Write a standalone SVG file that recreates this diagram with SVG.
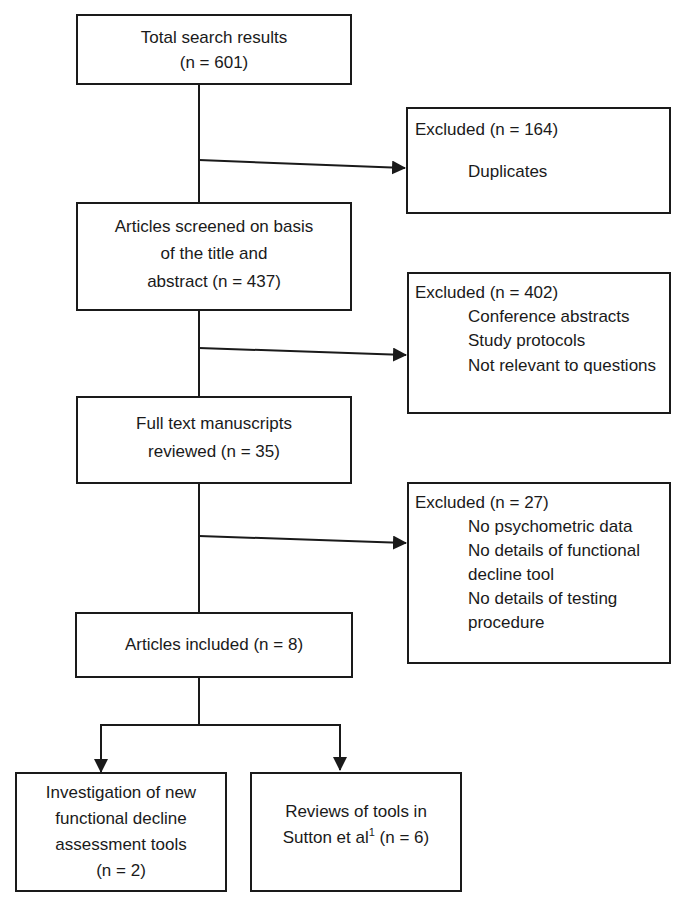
<svg xmlns="http://www.w3.org/2000/svg" width="686" height="907" viewBox="0 0 686 907">
<defs>
<style>
.box{fill:#fff;stroke:#1a1a1a;stroke-width:2}
.t{font-family:"Liberation Sans",Arial,sans-serif;font-size:17px;fill:#1a1a1a}
.c{text-anchor:middle}
.ln{fill:none;stroke:#1a1a1a;stroke-width:2}
</style>
<marker id="ah" markerUnits="userSpaceOnUse" markerWidth="14" markerHeight="14" viewBox="0 0 14 14" refX="13" refY="7" orient="auto">
<path d="M0,0 L14,7 L0,14 Z" fill="#1a1a1a"/>
</marker>
</defs>
<rect width="686" height="907" fill="#fff"/>
<g id="connectors">
<path class="ln" d="M199,84 V203"/>
<path class="ln" d="M199,310 V397"/>
<path class="ln" d="M199,483 V613"/>
<path class="ln" d="M199,677 V725"/>
<path class="ln" d="M199,160 L405,168" marker-end="url(#ah)"/>
<path class="ln" d="M199,348 L406,355" marker-end="url(#ah)"/>
<path class="ln" d="M199,536 L406,543" marker-end="url(#ah)"/>
<path class="ln" d="M199,725 H101 V772" marker-end="url(#ah)"/>
<path class="ln" d="M199,725 H340 V770" marker-end="url(#ah)"/>
</g>
<g id="n1">
<rect class="box" x="77" y="15" width="274" height="69"/>
<text class="t c" x="214" y="43">Total search results</text>
<text class="t c" x="214" y="68">(n = 601)</text>
</g>
<g id="x1">
<rect class="box" x="407" y="108" width="263" height="105"/>
<text class="t" x="415" y="135">Excluded (n = 164)</text>
<text class="t" x="468" y="177">Duplicates</text>
</g>
<g id="n2">
<rect class="box" x="77" y="203" width="274" height="107"/>
<text class="t c" x="214" y="232">Articles screened on basis</text>
<text class="t c" x="214" y="259">of the title and</text>
<text class="t c" x="214" y="287">abstract (n = 437)</text>
</g>
<g id="x2">
<rect class="box" x="408" y="273" width="262" height="140"/>
<text class="t" x="415" y="298">Excluded (n = 402)</text>
<text class="t" x="468" y="322">Conference abstracts</text>
<text class="t" x="468" y="346">Study protocols</text>
<text class="t" x="468" y="371">Not relevant to questions</text>
</g>
<g id="n3">
<rect class="box" x="77" y="397" width="274" height="86"/>
<text class="t c" x="214" y="429">Full text manuscripts</text>
<text class="t c" x="214" y="457">reviewed (n = 35)</text>
</g>
<g id="x3">
<rect class="box" x="408" y="483" width="262" height="180"/>
<text class="t" x="415" y="508">Excluded (n = 27)</text>
<text class="t" x="468" y="532">No psychometric data</text>
<text class="t" x="468" y="556">No details of functional</text>
<text class="t" x="468" y="580">decline tool</text>
<text class="t" x="468" y="604">No details of testing</text>
<text class="t" x="468" y="628">procedure</text>
</g>
<g id="n4">
<rect class="box" x="76" y="613" width="276" height="64"/>
<text class="t c" x="214" y="650">Articles included (n = 8)</text>
</g>
<g id="n5">
<rect class="box" x="16" y="773" width="210" height="118"/>
<text class="t c" x="121" y="798">Investigation of new</text>
<text class="t c" x="121" y="824">functional decline</text>
<text class="t c" x="121" y="850">assessment tools</text>
<text class="t c" x="121" y="876">(n = 2)</text>
</g>
<g id="n6">
<rect class="box" x="251" y="773" width="210" height="118"/>
<text class="t c" x="356" y="817">Reviews of tools in</text>
<text class="t c" x="356" y="843">Sutton et al<tspan font-size="11" dy="-7">1</tspan><tspan dy="7"> (n = 6)</tspan></text>
</g>
</svg>
